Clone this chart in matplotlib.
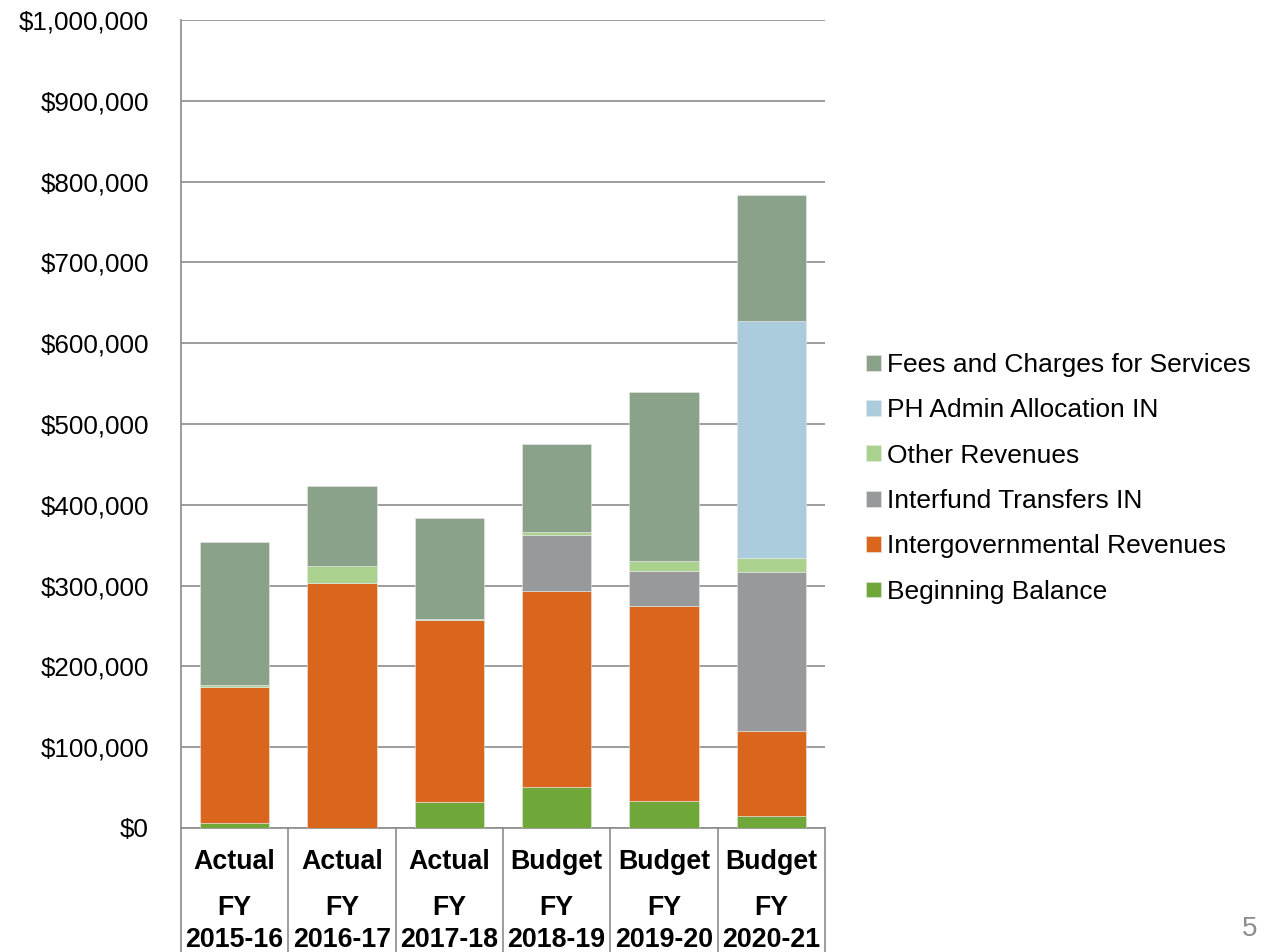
import numpy as np
import matplotlib.pyplot as plt
from matplotlib.ticker import FuncFormatter

plt.rcParams['font.family'] = ['Liberation Sans', 'DejaVu Sans']

# --- Data ---
status = ['Actual', 'Actual', 'Actual', 'Budget', 'Budget', 'Budget']
years = ['2015-16', '2016-17', '2017-18', '2018-19', '2019-20', '2020-21']

beginning = [6000, 0, 32000, 51000, 33000, 15000]
intergov = [168000, 303000, 225000, 242000, 242000, 105000]
interfund = [0, 0, 0, 69000, 43000, 197000]
other_rev = [3500, 21500, 2000, 4500, 12000, 17000]
ph_admin = [0, 0, 0, 0, 0, 293000]
fees = [177000, 99000, 125000, 109000, 209000, 156000]

series = [
    ('Beginning Balance', beginning, '#6FA838'),
    ('Intergovernmental Revenues', intergov, '#D9661C'),
    ('Interfund Transfers IN', interfund, '#98999B'),
    ('Other Revenues', other_rev, '#AAD28E'),
    ('PH Admin Allocation IN', ph_admin, '#ABCCDD'),
    ('Fees and Charges for Services', fees, '#8AA28A'),
]

fig = plt.figure(figsize=(12.64, 9.52), dpi=100)
ax = fig.add_axes([0.1432, 0.1303, 0.5095, 0.8487])

x = np.arange(len(years))
bottom = np.zeros(len(years))
handles = []
for name, vals, col in series:
    vals = np.array(vals, dtype=float)
    b = ax.bar(x, vals, 0.646, bottom=bottom, color=col, label=name,
               edgecolor='#e8e8e8', linewidth=0.4, zorder=3)
    handles.append(b)
    bottom += vals

ax.set_xlim(-0.5, len(years) - 0.5)
ax.set_ylim(0, 1000000)
ax.set_yticks(np.arange(0, 1000001, 100000))
ax.yaxis.set_major_formatter(FuncFormatter(lambda v, p: '${:,.0f}'.format(v)))
ax.tick_params(axis='y', labelsize=18.7, length=0, pad=23)
ax.grid(axis='y', color='#8c8c8c', linewidth=1.2, zorder=0)

for s in ['top', 'right']:
    ax.spines[s].set_visible(False)
for s in ['left', 'bottom']:
    ax.spines[s].set_color('#8c8c8c')
    ax.spines[s].set_linewidth(1.2)

# category labels in table-like cells
ax.set_xticks([])
trans = ax.get_xaxis_transform()
for i in range(len(years)):
    ax.text(i, -0.042, status[i], transform=trans, ha='center', va='center',
            fontsize=19.3, fontweight='bold')
    ax.text(i, -0.099, 'FY', transform=trans, ha='center', va='center',
            fontsize=19.3, fontweight='bold')
    ax.text(i, -0.1385, years[i], transform=trans, ha='center', va='center',
            fontsize=19.3, fontweight='bold')
for xb in np.arange(-0.5, len(years), 1.0):
    ax.plot([xb, xb], [0, -0.16], transform=trans, color='#8c8c8c',
            linewidth=1.2, clip_on=False)

leg = ax.legend(handles[::-1], [s[0] for s in series[::-1]],
                loc='center left', bbox_to_anchor=(1.0637, 0.4326),
                frameon=False, fontsize=19, handlelength=0.55,
                handleheight=0.55, handletextpad=0.25, labelspacing=0.81,
                borderpad=0, borderaxespad=0)

fig.text(0.995, 0.01, '5', fontsize=20, color='#8c8c8c', ha='right', va='bottom')

fig.savefig('out.png', dpi=100)
